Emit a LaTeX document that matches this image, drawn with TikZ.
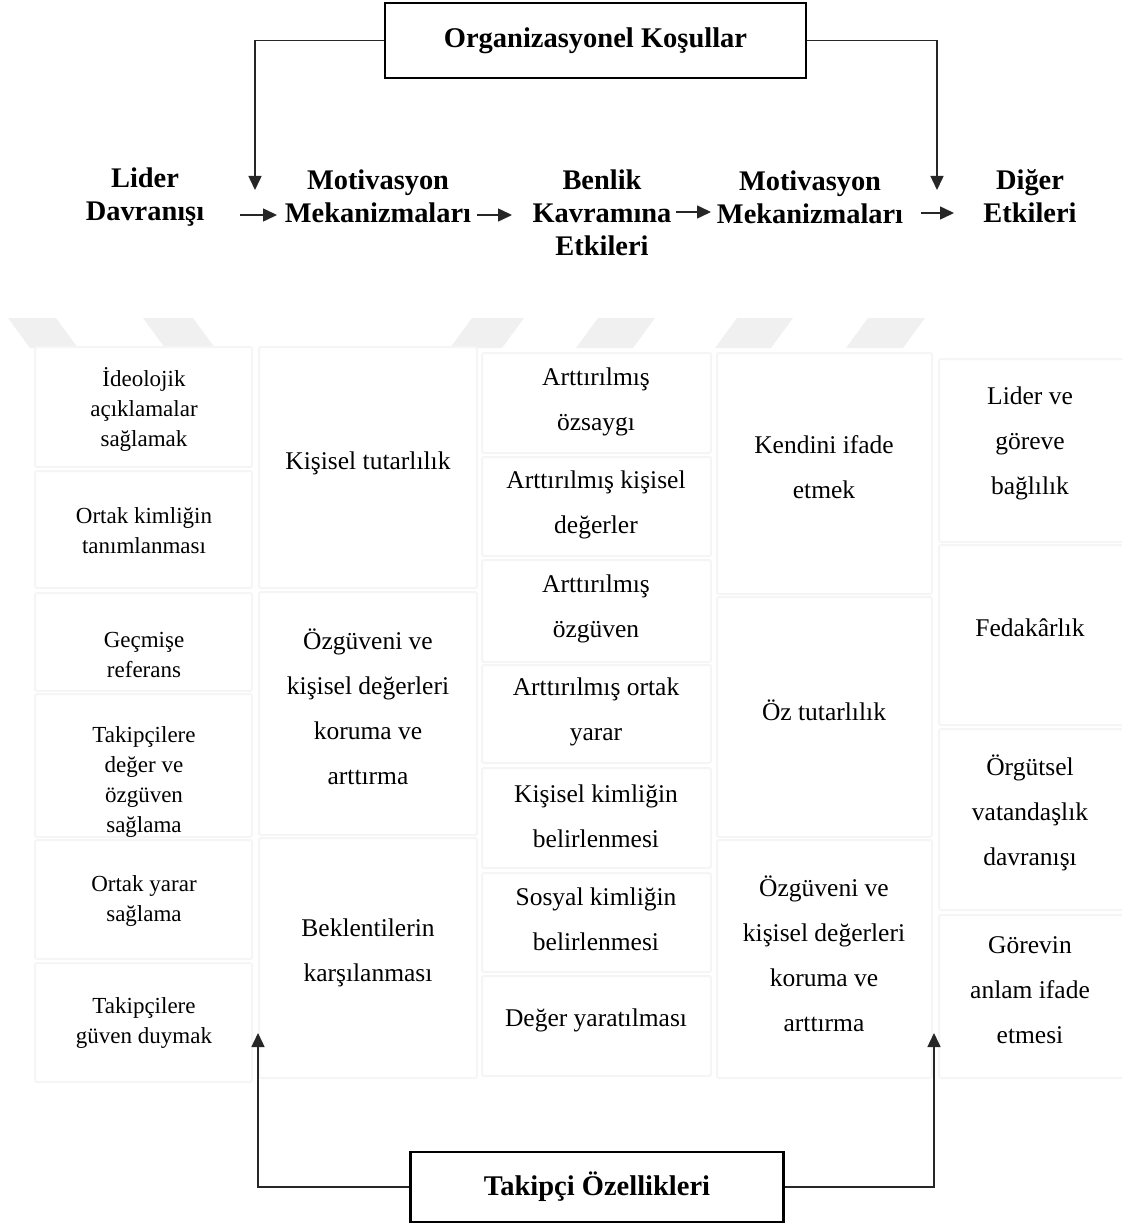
\documentclass[tikz,border=0pt]{standalone}
\usepackage{fontspec}
\setmainfont{Liberation Serif}
\usetikzlibrary{arrows.meta}
\begin{document}
\begin{tikzpicture}[x=1pt,y=-1pt,
  cell/.style={draw=black!4, line width=2pt, fill=white, rounded corners=2pt},
  wmark/.style={fill=black!6, draw=none},
  txt/.style={align=center, font=\fontsize{25.5}{45}\selectfont, inner sep=0pt},
  txtsmall/.style={align=center, font=\fontsize{23}{30}\selectfont, inner sep=0pt},
  head/.style={align=center, font=\fontsize{28.4}{33}\selectfont\bfseries, inner sep=0pt},
  titlebox/.style={draw, line width=2.5pt, fill=white, inner sep=0pt,
    font=\fontsize{28.5}{33}\selectfont\bfseries},
  conn/.style={line width=1.5pt, draw=black!85},
  arr/.style={conn, -{Triangle[length=14pt,width=13pt]}},
]
\useasboundingbox (0,0) rectangle (1121,1225);

% faint background stripes
\path[wmark] (8,318) -- (56,318) -- (78,348) -- (30,348) -- cycle;
\path[wmark] (143,318) -- (193,318) -- (215,348) -- (165,348) -- cycle;
\path[wmark] (472,318) -- (524,318) -- (502,348) -- (450,348) -- cycle;
\path[wmark] (598,318) -- (655,318) -- (633,348) -- (576,348) -- cycle;
\path[wmark] (737,318) -- (793,318) -- (771,348) -- (715,348) -- cycle;
\path[wmark] (868,318) -- (925,318) -- (903,348) -- (846,348) -- cycle;

% table cells
\foreach \ya/\yb in {347/467, 471/588, 593/691, 694/837, 840/959, 963/1082}
  \path[cell] (35,\ya) rectangle (252,\yb);
\foreach \ya/\yb in {347/588, 592/835, 838/1078}
  \path[cell] (259,\ya) rectangle (477,\yb);
\foreach \ya/\yb in {353/453, 457/556, 560/662, 665/763, 768/868, 873/972, 976/1076}
  \path[cell] (482,\ya) rectangle (711,\yb);
\foreach \ya/\yb in {353/594, 597/837, 840/1078}
  \path[cell] (717,\ya) rectangle (932,\yb);
\foreach \ya/\yb in {359/542, 545/725, 729/910, 915/1078}
  \path[cell] (939,\ya) rectangle (1125,\yb);

% column 1: leader behaviour
\node[txtsmall] (l1) at (144,409) {İdeolojik\\açıklamalar\\sağlamak};
\node[txtsmall] (l2) at (144,531) {Ortak kimliğin\\tanımlanması};
\node[txtsmall] (l3) at (144,655) {Geçmişe\\referans};
\node[txtsmall] (l4) at (144,782) {Takipçilere\\değer ve\\özgüven\\sağlama};
\node[txtsmall] (l5) at (144,901) {Ortak yarar\\sağlama};
\node[txtsmall] (l6) at (144,1023) {Takipçilere\\güven duymak};

% column 2: motivation mechanisms
\node[txt] (m1) at (368,463) {Kişisel tutarlılık};
\node[txt] (m2) at (368,707) {Özgüveni ve\\kişisel değerleri\\koruma ve\\arttırma};
\node[txt] (m3) at (368,953) {Beklentilerin\\karşılanması};

% column 3: effects on self-concept
\node[txt] (b1) at (596,402) {Arttırılmış\\özsaygı};
\node[txt] (b2) at (596,505) {Arttırılmış kişisel\\değerler};
\node[txt] (b3) at (596,609) {Arttırılmış\\özgüven};
\node[txt] (b4) at (596,712) {Arttırılmış ortak\\yarar};
\node[txt] (b5) at (596,816) {Kişisel kimliğin\\belirlenmesi};
\node[txt] (b6) at (596,919) {Sosyal kimliğin\\belirlenmesi};
\node[txt] (b7) at (596,1020) {Değer yaratılması};

% column 4: motivation mechanisms
\node[txt] (n1) at (824,467) {Kendini ifade\\etmek};
\node[txt] (n2) at (824,710) {Öz tutarlılık};
\node[txt] (n3) at (824,954) {Özgüveni ve\\kişisel değerleri\\koruma ve\\arttırma};

% column 5: other effects
\node[txt] (e1) at (1030,443) {Lider ve\\göreve\\bağlılık};
\node[txt] (e2) at (1030,628) {Fedakârlık};
\node[txt] (e3) at (1030,813) {Örgütsel\\vatandaşlık\\davranışı};
\node[txt] (e4) at (1030,990) {Görevin\\anlam ifade\\etmesi};

% column headings
\node[head] (h1) at (145,197) {Lider\\Davranışı};
\node[head] (h2) at (378,196) {Motivasyon\\Mekanizmaları};
\node[head] (h3) at (602,213) {Benlik\\Kavramına\\Etkileri};
\node[head] (h4) at (810,197) {Motivasyon\\Mekanizmaları};
\node[head] (h5) at (1030,196) {Diğer\\Etkileri};

% arrows between headings
\coordinate (a1s) at (240,215); \coordinate (a1e) at (277,215);
\coordinate (a2s) at (477,215); \coordinate (a2e) at (512,215);
\coordinate (a3s) at (676,212); \coordinate (a3e) at (711,212);
\coordinate (a4s) at (921,213); \coordinate (a4e) at (954,213);
\draw[arr] (a1s) -- (a1e);
\draw[arr] (a2s) -- (a2e);
\draw[arr] (a3s) -- (a3e);
\draw[arr] (a4s) -- (a4e);

% organisational conditions
\node[titlebox, minimum width=421pt, minimum height=75pt] (org) at (595.5,40.5) {Organizasyonel Koşullar};
\coordinate (orgL) at (255,190);
\coordinate (orgR) at (937,190);
\draw[arr] (org.west) -| (orgL);
\draw[arr] (org.east) -| (orgR);

% follower characteristics
\node[titlebox, minimum width=373pt, minimum height=70pt] (fol) at (597,1187) {Takipçi Özellikleri};
\coordinate (folL) at (258,1033);
\coordinate (folR) at (934,1033);
\draw[arr] (fol.west) -| (folL);
\draw[arr] (fol.east) -| (folR);
\end{tikzpicture}
\end{document}
